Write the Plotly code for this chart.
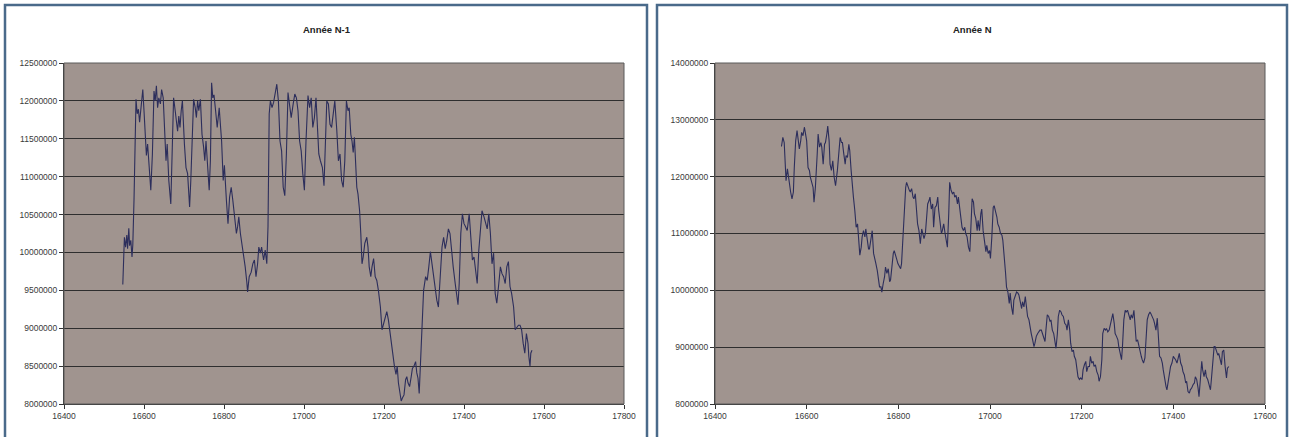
import plotly.graph_objects as go

# ---------------- Data ----------------
title_n1 = "Année N-1"
title_n = "Année N"

x_n1 = [16547,16551,16554,16557,16559,16562,16564,16567,16570,16572,
        16575,16578,16580,16583,16586,16589,16592,16595,16597,16600,
        16604,16606,16609,16613,16617,16621,16625,16628,16631,16634,
        16637,16641,16644,16648,16652,16655,16658,16662,16667,16670,
        16674,16678,16681,16684,16687,16690,16693,16696,16701,16705,
        16709,16714,16717,16721,16724,16728,16731,16734,16737,16741,
        16745,16749,16752,16755,16759,16763,16766,16769,16772,16775,
        16779,16783,16788,16791,16794,16798,16801,16806,16810,16814,
        16818,16822,16827,16831,16834,16837,16841,16845,16849,16853,
        16857,16859,16863,16868,16872,16876,16880,16884,16887,16891,
        16894,16899,16903,16907,16910,16913,16916,16920,16924,16928,
        16932,16936,16940,16944,16948,16952,16956,16960,16964,16968,
        16973,16977,16981,16985,16989,16993,16997,17001,17005,17010,
        17014,17018,17022,17026,17030,17034,17037,17041,17046,17050,
        17053,17057,17061,17065,17069,17073,17077,17082,17086,17090,
        17094,17098,17102,17106,17110,17113,17117,17120,17123,17126,
        17129,17132,17135,17139,17142,17145,17148,17152,17157,17160,
        17163,17167,17170,17174,17178,17182,17186,17191,17195,17199,
        17203,17207,17211,17215,17219,17222,17226,17230,17233,17236,
        17240,17243,17246,17250,17254,17257,17260,17264,17268,17271,
        17275,17279,17282,17285,17288,17291,17295,17299,17304,17308,
        17312,17316,17320,17324,17328,17332,17336,17341,17345,17349,
        17353,17357,17361,17365,17369,17373,17378,17382,17385,17388,
        17392,17396,17400,17404,17408,17413,17417,17421,17425,17429,
        17433,17437,17441,17445,17450,17454,17458,17462,17466,17470,
        17474,17478,17482,17487,17491,17495,17499,17503,17507,17511,
        17515,17519,17524,17528,17532,17536,17540,17544,17548,17552,
        17556,17560,17562,17565,17567,17570]

y_n1 = [9578000,10200000,10070000,10230000,10050000,10320000,10090000,10160000,9940000,10100000,
        10690000,11870000,12020000,11830000,11890000,11720000,11870000,12000000,12150000,11870000,
        11390000,11280000,11430000,11040000,10820000,11300000,12130000,12000000,12200000,11910000,
        12040000,11960000,12150000,12040000,11470000,11210000,11430000,10950000,10640000,11210000,
        12040000,11870000,11740000,11600000,11800000,11650000,11870000,12000000,11430000,11120000,
        11040000,10600000,10950000,11650000,12020000,11910000,11780000,12000000,11870000,12020000,
        11560000,11390000,11210000,11470000,11080000,10820000,11210000,12240000,12040000,12080000,
        11870000,11650000,11910000,11690000,11470000,10950000,11150000,10690000,10380000,10730000,
        10860000,10690000,10470000,10250000,10340000,10470000,10250000,10120000,9990000,9810000,
        9610000,9480000,9680000,9740000,9850000,9900000,9680000,9850000,10070000,9990000,
        10070000,9900000,10030000,9850000,10340000,11830000,12000000,11910000,11980000,12090000,
        12220000,12000000,11470000,11340000,10860000,10750000,11300000,12110000,11910000,11780000,
        11960000,12090000,12040000,11870000,11470000,11340000,11040000,10820000,11470000,12070000,
        11910000,12040000,11650000,11780000,12040000,11690000,11300000,11210000,11120000,10880000,
        11430000,12000000,11960000,11690000,11650000,11870000,12000000,11610000,11210000,11300000,
        10950000,10860000,11210000,12000000,11870000,11910000,11560000,11470000,11320000,11520000,
        11260000,10860000,10770000,10550000,10250000,9850000,9940000,10120000,10200000,10070000,
        9810000,9680000,9810000,9920000,9680000,9630000,9500000,9280000,8980000,9060000,
        9170000,9220000,9110000,8930000,8800000,8670000,8500000,8390000,8500000,8280000,
        8140000,8040000,8080000,8120000,8320000,8360000,8280000,8230000,8360000,8470000,
        8500000,8560000,8410000,8340000,8140000,8580000,9150000,9500000,9680000,9630000,
        9810000,10010000,9850000,9680000,9500000,9370000,9280000,9810000,10070000,10200000,
        10050000,10160000,10310000,10250000,9990000,9810000,9590000,9460000,9310000,9590000,
        10250000,10510000,10380000,10340000,10290000,10510000,10250000,9900000,9940000,9720000,
        9590000,10030000,10340000,10550000,10470000,10380000,10310000,10510000,10250000,9850000,
        9990000,9460000,9330000,9590000,9810000,9720000,9680000,9590000,9810000,9880000,
        9550000,9460000,9280000,8980000,9020000,9040000,9040000,8980000,8800000,8670000,
        8930000,8800000,8630000,8500000,8670000,8710000]

x_n = [16545,16548,16551,16553,16555,16558,16560,16562,16565,16568,
       16571,16573,16576,16579,16581,16584,16587,16589,16592,16595,
       16597,16600,16603,16606,16608,16611,16614,16616,16619,16623,
       16625,16628,16631,16633,16636,16639,16641,16644,16646,16649,
       16651,16654,16657,16660,16663,16667,16670,16673,16676,16678,
       16681,16684,16686,16689,16692,16694,16697,16700,16702,16705,
       16708,16711,16713,16716,16719,16721,16724,16727,16729,16732,
       16735,16737,16740,16743,16746,16748,16751,16754,16756,16759,
       16762,16764,16767,16770,16772,16775,16778,16781,16783,16786,
       16789,16791,16794,16797,16799,16802,16805,16807,16810,16813,
       16816,16818,16821,16824,16826,16829,16832,16834,16837,16840,
       16842,16845,16848,16851,16853,16856,16859,16861,16864,16867,
       16869,16872,16875,16877,16880,16883,16886,16888,16891,16894,
       16896,16899,16902,16904,16907,16910,16912,16915,16918,16921,
       16923,16926,16929,16931,16934,16937,16939,16942,16945,16947,
       16950,16953,16956,16958,16961,16964,16966,16969,16972,16974,
       16977,16980,16982,16985,16988,16991,16993,16996,16999,17001,
       17004,17007,17009,17012,17015,17017,17020,17023,17026,17028,
       17031,17034,17036,17039,17042,17044,17047,17050,17052,17055,
       17058,17061,17063,17066,17069,17071,17074,17077,17079,17082,
       17085,17087,17090,17093,17096,17098,17101,17104,17106,17109,
       17112,17114,17117,17120,17122,17125,17128,17131,17133,17136,
       17139,17141,17144,17147,17149,17152,17155,17157,17160,17163,
       17166,17168,17171,17174,17176,17179,17182,17184,17187,17190,
       17192,17195,17198,17201,17203,17206,17209,17211,17214,17217,
       17219,17222,17225,17227,17230,17233,17236,17238,17241,17244,
       17246,17249,17252,17254,17257,17260,17262,17265,17268,17271,
       17273,17276,17279,17281,17284,17287,17289,17292,17295,17297,
       17300,17303,17306,17308,17311,17314,17316,17319,17322,17324,
       17327,17330,17332,17335,17338,17341,17343,17346,17349,17351,
       17354,17357,17359,17362,17365,17367,17370,17373,17376,17378,
       17381,17384,17386,17389,17392,17394,17397,17400,17402,17405,
       17408,17411,17413,17416,17419,17421,17424,17427,17429,17432,
       17435,17437,17440,17443,17446,17448,17451,17454,17456,17459,
       17462,17464,17467,17470,17472,17475,17478,17481,17483,17486,
       17489,17491,17494,17497,17499,17502,17505,17507,17510,17513,
       17516,17518,17521]

y_n = [12530000,12690000,12600000,12280000,11930000,12140000,11990000,11840000,11730000,11610000,
       11730000,12160000,12630000,12810000,12690000,12490000,12630000,12780000,12720000,12870000,
       12780000,12630000,12160000,12110000,11990000,11870000,11810000,11550000,11810000,12400000,
       12750000,12520000,12600000,12520000,12220000,12570000,12600000,12750000,12890000,12630000,
       12220000,12110000,12280000,11990000,11840000,12110000,12400000,12690000,12600000,12600000,
       12400000,12220000,12370000,12340000,12570000,12460000,12110000,11760000,11640000,11410000,
       11110000,11170000,10880000,10620000,10760000,10940000,11050000,10940000,11080000,10880000,
       10730000,10730000,10880000,11050000,10650000,10590000,10470000,10350000,10240000,10060000,
       10060000,9970000,10120000,10240000,10410000,10300000,10380000,10150000,10180000,10440000,
       10650000,10700000,10590000,10530000,10470000,10410000,10380000,10470000,11000000,11460000,
       11810000,11900000,11810000,11760000,11730000,11790000,11640000,11610000,11700000,11290000,
       11170000,11050000,10820000,11080000,11000000,10910000,11000000,11290000,11520000,11580000,
       11640000,11430000,11520000,11110000,11460000,11490000,11640000,11410000,11170000,11000000,
       11050000,11170000,11000000,10880000,10760000,11350000,11900000,11760000,11700000,11730000,
       11640000,11670000,11520000,11640000,11410000,11290000,11110000,11050000,11110000,11000000,
       10940000,10760000,10680000,11050000,11610000,11550000,11350000,11260000,11050000,11230000,
       11050000,11350000,11430000,11050000,10820000,10680000,10790000,10650000,10700000,10560000,
       10940000,11460000,11490000,11410000,11290000,11170000,11110000,11000000,10970000,10880000,
       10650000,10300000,10060000,9970000,9770000,9950000,9710000,9570000,9830000,9920000,
       9970000,9950000,9920000,9800000,9680000,9800000,9710000,9890000,9710000,9540000,
       9480000,9360000,9240000,9130000,9010000,9070000,9190000,9240000,9270000,9300000,
       9300000,9240000,9160000,9100000,9300000,9570000,9540000,9450000,9480000,9300000,
       9240000,9130000,8980000,9240000,9540000,9650000,9620000,9570000,9540000,9420000,
       9390000,9300000,9480000,9300000,9070000,8920000,8950000,8840000,8780000,8600000,
       8480000,8430000,8460000,8430000,8600000,8690000,8750000,8570000,8660000,8660000,
       8840000,8720000,8750000,8660000,8690000,8570000,8510000,8400000,8480000,8780000,
       9240000,9330000,9300000,9330000,9270000,9300000,9390000,9480000,9590000,9420000,
       9240000,9190000,9130000,9010000,8860000,8780000,9010000,9480000,9650000,9620000,
       9650000,9570000,9480000,9570000,9510000,9650000,9360000,9100000,9130000,9040000,
       8920000,8840000,8780000,8720000,8810000,9240000,9480000,9570000,9620000,9590000,
       9540000,9480000,9420000,9300000,9510000,9240000,8840000,8810000,8720000,8600000,
       8430000,8310000,8250000,8430000,8570000,8660000,8720000,8840000,8810000,8780000,
       8720000,8810000,8890000,8720000,8660000,8570000,8510000,8370000,8400000,8220000,
       8190000,8250000,8280000,8340000,8370000,8480000,8430000,8280000,8130000,8430000,
       8750000,8600000,8480000,8600000,8480000,8430000,8310000,8250000,8430000,8780000,
       9010000,9010000,8920000,8860000,8890000,8780000,8690000,8920000,8950000,8660000,
       8460000,8630000,8660000]

# ---------------- Styling ----------------
W, H = 1290, 437
PLOT_BG = "#A0948F"
LINE = "#2C2E5C"
GRID = "#2E2E2E"
BORDER = "#4A6A8A"
FONT = "Liberation Sans, Arial, sans-serif"

def px_x(p):
    return p / W

def px_y(p):
    return 1 - p / H

fig = go.Figure()
fig.add_trace(go.Scatter(x=x_n1, y=y_n1, xaxis="x", yaxis="y", mode="lines",
                         line=dict(color=LINE, width=1.1), hoverinfo="skip"))
fig.add_trace(go.Scatter(x=x_n, y=y_n, xaxis="x2", yaxis="y2", mode="lines",
                         line=dict(color=LINE, width=1.1), hoverinfo="skip"))

tickfont = dict(family=FONT, size=8.5, color="#3a3a3a")
common_x = dict(showgrid=False, zeroline=False, ticks="outside", ticklen=4,
                tickcolor="#333333", showline=True, linecolor="#333333", linewidth=1,
                tickfont=tickfont, dtick=200, tick0=16400, tickformat="d",
                automargin=False)
common_y = dict(showgrid=True, gridcolor=GRID, gridwidth=1, zeroline=False,
                ticks="outside", ticklen=4, tickcolor="#333333", showline=True,
                linecolor="#333333", linewidth=1, tickfont=tickfont, tickformat="d",
                automargin=False)

ydom = [px_y(404), px_y(63)]
fig.update_layout(
    width=W, height=H, autosize=False,
    margin=dict(l=0, r=0, t=0, b=0, pad=0, autoexpand=False),
    paper_bgcolor="white",
    plot_bgcolor=PLOT_BG,
    showlegend=False,
    xaxis=dict(domain=[px_x(64), px_x(624)], range=[16400, 17800], anchor="y", **common_x),
    yaxis=dict(domain=ydom, range=[8000000, 12500000], dtick=500000, anchor="x", **common_y),
    xaxis2=dict(domain=[px_x(715), px_x(1265)], range=[16400, 17600], anchor="y2", **common_x),
    yaxis2=dict(domain=ydom, range=[8000000, 14000000], dtick=1000000, anchor="x2", **common_y),
)

# plot-area frames (top/right edges)
for xr, yr in (("x domain", "y domain"), ("x2 domain", "y2 domain")):
    fig.add_shape(type="rect", xref=xr, yref=yr, x0=0, x1=1, y0=0, y1=1,
                  line=dict(color="#5a5a5a", width=1), layer="above")

# panel borders
for x0, x1 in ((5, 647), (657, 1287)):
    fig.add_shape(type="rect", xref="paper", yref="paper",
                  x0=px_x(x0), x1=px_x(x1), y0=-0.2, y1=px_y(5),
                  line=dict(color=BORDER, width=2.5), layer="below")

# titles
for txt, cx in ((title_n1, 327), (title_n, 972)):
    fig.add_annotation(text="<b>" + txt + "</b>", xref="paper", yref="paper",
                       x=px_x(cx), y=px_y(29), showarrow=False,
                       xanchor="center", yanchor="middle",
                       font=dict(family=FONT, size=9.5, color="#222222"))

fig.write_html("out.html",
               config={"displayModeBar": False, "staticPlot": True},
               post_script="document.body.style.margin='0';document.body.style.overflow='hidden';")
